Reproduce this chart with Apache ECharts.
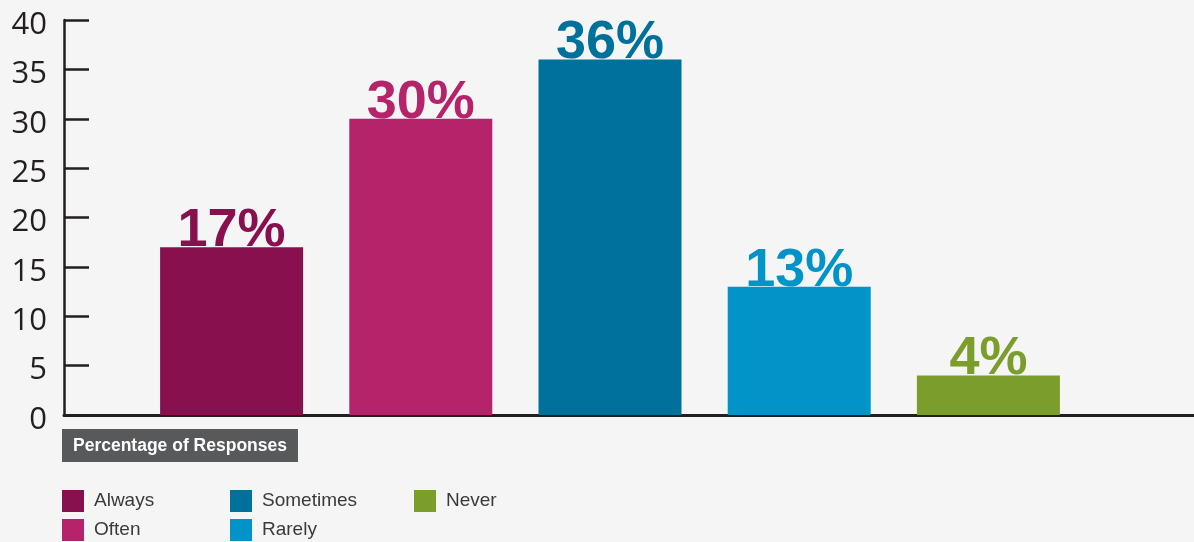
<!DOCTYPE html>
<html>
<head>
<meta charset="utf-8">
<script src="https://cdn.jsdelivr.net/npm/echarts@6/dist/echarts.min.js"></script>
<style>
  html, body { margin: 0; padding: 0; background: #f5f5f5; }
  #chart { width: 1194px; height: 542px; }
</style>
</head>
<body>
<div id="chart"></div>
<script>
// Survey answers and their share of responses (%)
const categories = ['Always', 'Often', 'Sometimes', 'Rarely', 'Never'];
const percentages = [17, 30, 36, 13, 4];
const barColors = ['#88104f', '#b5236b', '#00719a', '#0294c8', '#7b9d2b'];
const yTicks = [0, 5, 10, 15, 20, 25, 30, 35, 40];
const axisTitle = 'Percentage of Responses';

const ink = '#231f20';
const yMin = yTicks[0];
const yMax = yTicks[yTicks.length - 1];
const yStep = yTicks[1] - yTicks[0];

// One series per answer so each gets its own legend entry; stacking keeps
// every bar centred in its own category band.
const series = categories.map((name, i) => ({
  name: name,
  type: 'bar',
  xAxisIndex: 1,
  yAxisIndex: 1,
  stack: 'all',
  barWidth: 143,
  itemStyle: { color: barColors[i] },
  data: categories.map((_, j) => (j === i ? percentages[i] : '-')),
  label: {
    show: true,
    position: 'top',
    distance: -11,
    formatter: '{c}%',
    color: barColors[i],
    fontFamily: '"Liberation Sans", Arial, sans-serif',
    fontWeight: 'bold',
    fontSize: 54
  }
}));

const legendText = {
  color: '#3a3a3a',
  fontSize: 19,
  fontFamily: '"Liberation Sans", Arial, sans-serif',
  padding: [0, 0, 0, 5]
};
function legendColumn(left, names) {
  return {
    left: left,
    top: 490,
    orient: 'vertical',
    icon: 'rect',
    itemWidth: 22,
    itemHeight: 22,
    itemGap: 7,
    padding: 0,
    selectedMode: false,
    textStyle: legendText,
    data: names
  };
}

const option = {
  backgroundColor: '#f5f5f5',
  animation: false,
  title: {
    text: axisTitle,
    left: 62,
    top: 429,
    padding: [8, 11, 7, 11],
    backgroundColor: '#58595b',
    textStyle: {
      color: '#ffffff',
      fontSize: 17.5,
      fontWeight: 'bold',
      fontFamily: '"Liberation Sans", Arial, sans-serif'
    }
  },
  legend: [
    legendColumn(62, [categories[0], categories[1]]),
    legendColumn(230, [categories[2], categories[3]]),
    legendColumn(414, [categories[4]])
  ],
  grid: [
    // frame: value axis and the long baseline
    { left: 64, right: 0, top: 20, bottom: 127 },
    // plotting band for the bars
    { left: 137, right: 111, top: 20, bottom: 127 }
  ],
  xAxis: [
    {
      gridIndex: 0,
      type: 'value',
      min: 0,
      max: 1,
      axisLine: { show: true, onZero: false, lineStyle: { color: ink, width: 3 } },
      axisTick: { show: false },
      axisLabel: { show: false },
      splitLine: { show: false }
    },
    {
      gridIndex: 1,
      type: 'category',
      data: categories,
      axisLine: { show: false },
      axisTick: { show: false },
      axisLabel: { show: false },
      splitLine: { show: false }
    }
  ],
  yAxis: [
    {
      gridIndex: 0,
      type: 'value',
      min: yMin,
      max: yMax,
      interval: yStep,
      axisLine: { show: true, lineStyle: { color: ink, width: 2.5 } },
      axisTick: { show: true, inside: true, length: 25, lineStyle: { color: ink, width: 2.5 } },
      axisLabel: {
        color: ink,
        fontSize: 31,
        margin: 17,
        fontFamily: '"Open Sans", "Noto Sans", sans-serif',
        verticalAlign: 'top',
        lineHeight: 10
      },
      splitLine: { show: false }
    },
    {
      gridIndex: 1,
      type: 'value',
      min: yMin,
      max: yMax,
      interval: yStep,
      show: false
    }
  ],
  series: series
};

const chart = echarts.init(document.getElementById('chart'), null, { renderer: 'canvas' });
chart.setOption(option);
</script>
</body>
</html>
